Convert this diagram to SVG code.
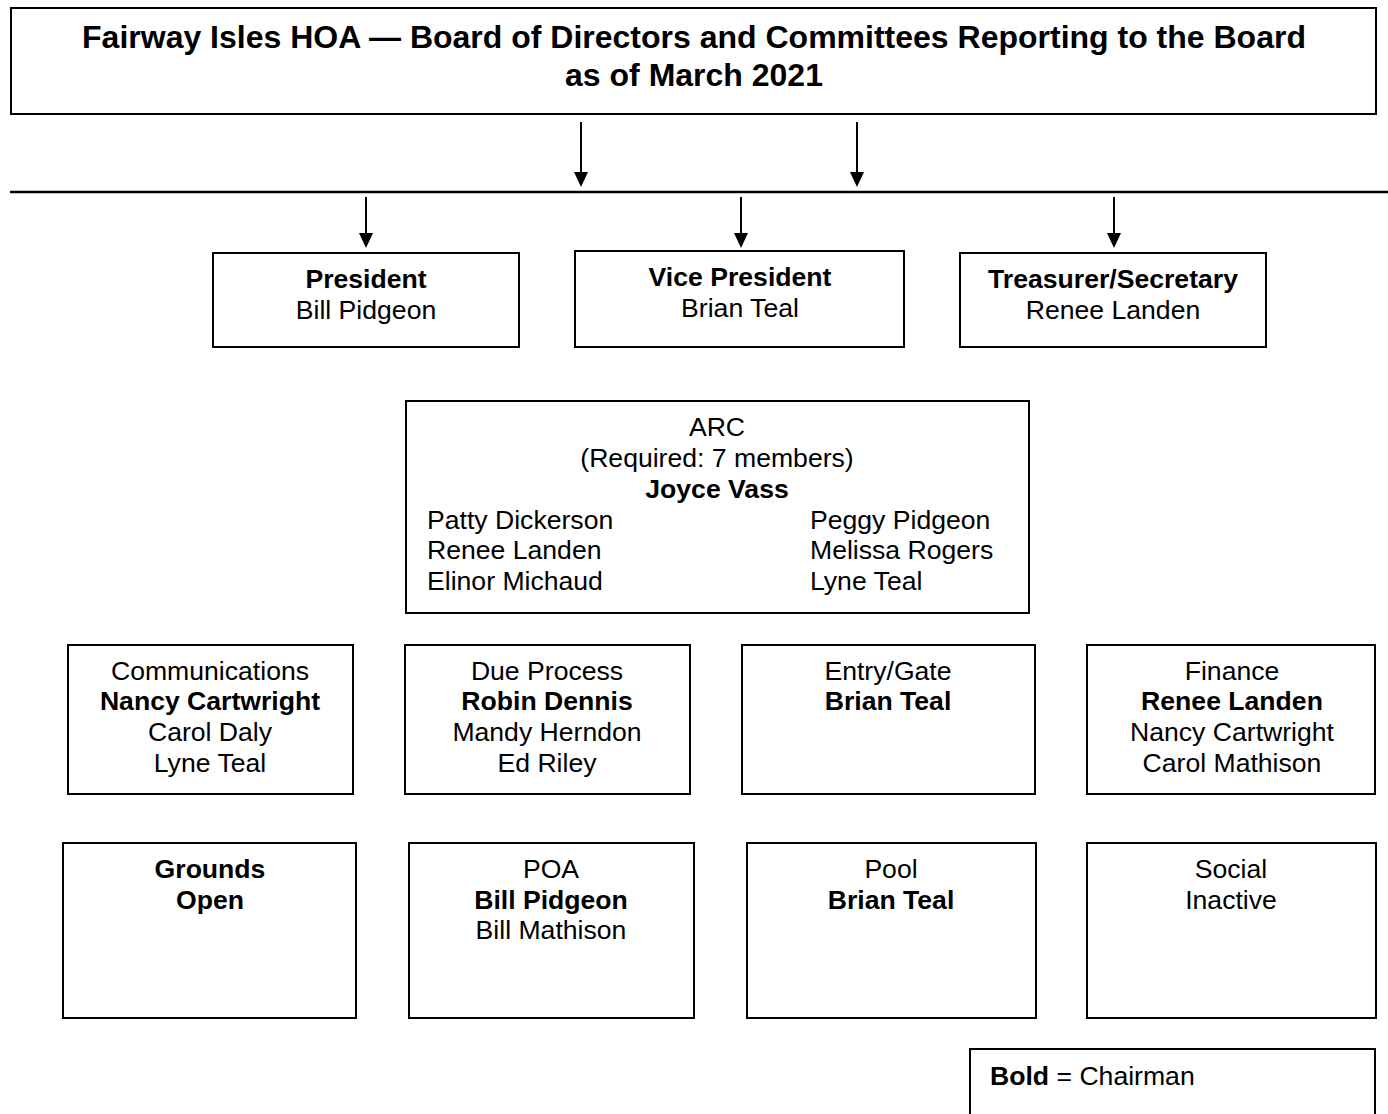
<svg xmlns="http://www.w3.org/2000/svg" width="1388" height="1114" viewBox="0 0 1388 1114">
<defs>
<style>
rect{fill:#fff;stroke:#000;stroke-width:2}
text{font-family:"Liberation Sans",Arial,sans-serif;font-size:26.6px;fill:#000}
.c{text-anchor:middle}
.b{font-weight:bold}
.t{font-size:32px;font-weight:bold}
.ln{stroke:#000;stroke-width:2;fill:none}
.ah{fill:#000;stroke:none}
</style>
</defs>
<rect x="0" y="0" width="1388" height="1114" style="stroke:none"/>
<g id="title">
<rect x="11" y="8" width="1365" height="106"/>
<text class="c t" x="694" y="48">Fairway Isles HOA — Board of Directors and Committees Reporting to the Board</text>
<text class="c t" x="694" y="86">as of March 2021</text>
</g>
<g id="connectors">
<line class="ln" x1="581" y1="122" x2="581" y2="172"/>
<path class="ah" d="M574,172 L588,172 L581,187 Z"/>
<line class="ln" x1="857" y1="122" x2="857" y2="172"/>
<path class="ah" d="M850,172 L864,172 L857,187 Z"/>
<line class="ln" x1="10" y1="192" x2="1388" y2="192" style="stroke-width:2.5"/>
<line class="ln" x1="366" y1="197" x2="366" y2="233"/>
<path class="ah" d="M359,233 L373,233 L366,248 Z"/>
<line class="ln" x1="741" y1="197" x2="741" y2="233"/>
<path class="ah" d="M734,233 L748,233 L741,248 Z"/>
<line class="ln" x1="1114" y1="197" x2="1114" y2="233"/>
<path class="ah" d="M1107,233 L1121,233 L1114,248 Z"/>
</g>
<g id="president">
<rect x="213" y="253" width="306" height="94"/>
<text class="c b" x="366" y="288">President</text>
<text class="c" x="366" y="319">Bill Pidgeon</text>
</g>
<g id="vice-president">
<rect x="575" y="251" width="329" height="96"/>
<text class="c b" x="740" y="286">Vice President</text>
<text class="c" x="740" y="317">Brian Teal</text>
</g>
<g id="treasurer-secretary">
<rect x="960" y="253" width="306" height="94"/>
<text class="c b" x="1113" y="288">Treasurer/Secretary</text>
<text class="c" x="1113" y="319">Renee Landen</text>
</g>
<g id="arc">
<rect x="406" y="401" width="623" height="212"/>
<text class="c" x="717" y="436">ARC</text>
<text class="c" x="717" y="467">(Required: 7 members)</text>
<text class="c b" x="717" y="498">Joyce Vass</text>
<text x="427" y="529">Patty Dickerson</text>
<text x="427" y="559">Renee Landen</text>
<text x="427" y="590">Elinor Michaud</text>
<text x="810" y="529">Peggy Pidgeon</text>
<text x="810" y="559">Melissa Rogers</text>
<text x="810" y="590">Lyne Teal</text>
</g>
<g id="communications">
<rect x="68" y="645" width="285" height="149"/>
<text class="c" x="210" y="680">Communications</text>
<text class="c b" x="210" y="710">Nancy Cartwright</text>
<text class="c" x="210" y="741">Carol Daly</text>
<text class="c" x="210" y="772">Lyne Teal</text>
</g>
<g id="due-process">
<rect x="405" y="645" width="285" height="149"/>
<text class="c" x="547" y="680">Due Process</text>
<text class="c b" x="547" y="710">Robin Dennis</text>
<text class="c" x="547" y="741">Mandy Herndon</text>
<text class="c" x="547" y="772">Ed Riley</text>
</g>
<g id="entry-gate">
<rect x="742" y="645" width="293" height="149"/>
<text class="c" x="888" y="680">Entry/Gate</text>
<text class="c b" x="888" y="710">Brian Teal</text>
</g>
<g id="finance">
<rect x="1087" y="645" width="288" height="149"/>
<text class="c" x="1232" y="680">Finance</text>
<text class="c b" x="1232" y="710">Renee Landen</text>
<text class="c" x="1232" y="741">Nancy Cartwright</text>
<text class="c" x="1232" y="772">Carol Mathison</text>
</g>
<g id="grounds">
<rect x="63" y="843" width="293" height="175"/>
<text class="c b" x="210" y="878">Grounds</text>
<text class="c b" x="210" y="909">Open</text>
</g>
<g id="poa">
<rect x="409" y="843" width="285" height="175"/>
<text class="c" x="551" y="878">POA</text>
<text class="c b" x="551" y="909">Bill Pidgeon</text>
<text class="c" x="551" y="939">Bill Mathison</text>
</g>
<g id="pool">
<rect x="747" y="843" width="289" height="175"/>
<text class="c" x="891" y="878">Pool</text>
<text class="c b" x="891" y="909">Brian Teal</text>
</g>
<g id="social">
<rect x="1087" y="843" width="289" height="175"/>
<text class="c" x="1231" y="878">Social</text>
<text class="c" x="1231" y="909">Inactive</text>
</g>
<g id="legend">
<rect x="970" y="1049" width="405" height="80"/>
<text x="990" y="1085"><tspan class="b">Bold</tspan> = Chairman</text>
</g>
</svg>
